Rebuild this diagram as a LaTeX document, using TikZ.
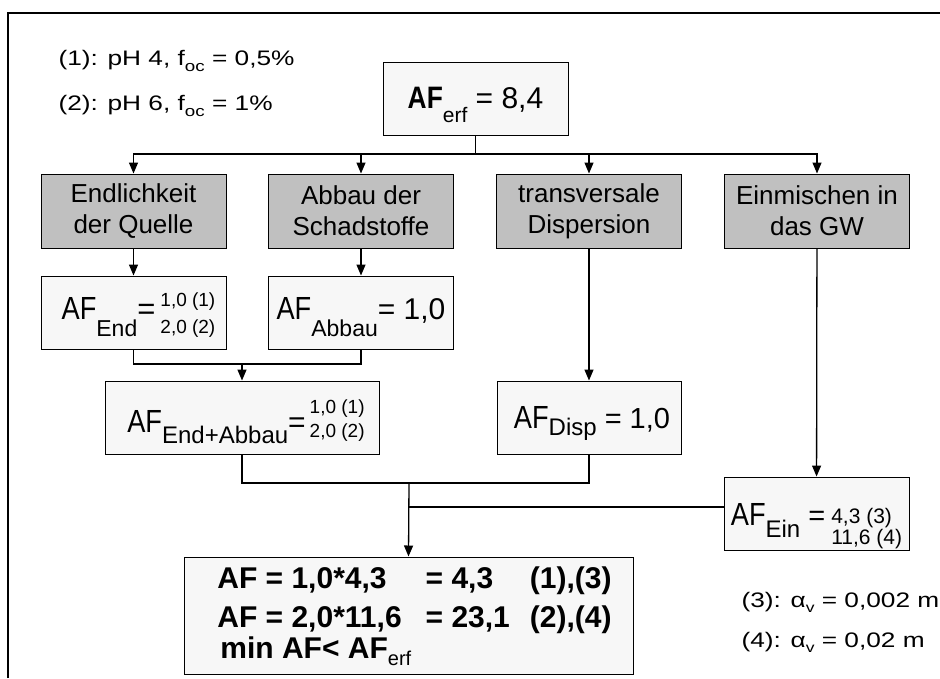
\documentclass[tikz,border=0pt]{standalone}
\usepackage{fontspec}
\setmainfont{Liberation Sans}
\newfontfamily\widefont[FakeStretch=1.25]{Liberation Sans}
\newfontfamily\narrowfont[FakeStretch=0.85]{Liberation Sans}
\usetikzlibrary{arrows.meta}
\definecolor{catgray}{RGB}{192,192,192}
\definecolor{boxfill}{RGB}{247,247,247}
\newcommand{\fsz}[2]{\fontsize{#1}{#2}\selectfont}
\newcommand{\afsym}{{\narrowfont\fsz{32}{32}AF}}
\begin{document}
\begin{tikzpicture}[x=1pt, y=-1pt,
  leaf/.style={draw, line width=1pt, fill=boxfill, minimum width=185pt, minimum height=73pt, inner sep=2pt},
  cat/.style={draw, line width=1pt, fill=catgray, minimum width=185pt, minimum height=74pt, align=center, font=\fsz{26}{31}},
  note/.style={anchor=base west, font=\widefont\fsz{21}{21}},
  wire/.style={line width=1.3pt},
  arrow/.style={-{Triangle[length=11pt,width=9pt]}, line width=1.3pt}
]
\useasboundingbox (0,0) rectangle (940,678);
\draw[line width=2pt] (8,678) -- (8,13) -- (940,13);

% legend
\node[note] (note1) at (55,65.5) {(1): pH 4, f\raisebox{-6pt}{\fsz{15}{15}oc} = 0,5\%};
\node[note] (note2) at (55,110.5) {(2): pH 6, f\raisebox{-6pt}{\fsz{15}{15}oc} = 1\%};
\node[note] (note3) at (738,607) {(3): α\raisebox{-5pt}{\fsz{14}{14}v} = 0,002 m};
\node[note] (note4) at (738,647) {(4): α\raisebox{-5pt}{\fsz{14}{14}v} = 0,02 m};

% boxes
\node[leaf, text height=24pt, text depth=5pt] (erf) at (475.5,98.5) {{\narrowfont\fsz{31}{31}\bfseries AF}\raisebox{-14pt}{\fsz{21}{21}erf}{\fsz{30}{30} = 8,4}};
\node[cat] (src) at (133.5,211) {Endlichkeit\\der Quelle};
\node[cat] (deg) at (361,211) {Abbau der\\Schadstoffe};
\node[cat] (disp) at (589,211) {transversale\\Dispersion};
\node[cat] (mix) at (817,211) {Einmischen in\\das GW};
\node[leaf, text height=23pt, text depth=10pt] (afend) at (133.5,312.5) {\hspace{10pt}\afsym\raisebox{-17pt}{\fsz{23}{23}End}{\fsz{31}{31}=}\hspace{5pt}{\fsz{19}{27}\begin{tabular}{@{}l@{}}1,0 (1)\\2,0 (2)\end{tabular}}};
\node[leaf, text height=23pt, text depth=10pt] (afabbau) at (361,312.5) {\afsym\raisebox{-17pt}{\fsz{23}{23}Abbau}{\fsz{30}{30}= 1,0}};
\node[leaf, minimum width=274pt, text height=29pt, text depth=0pt] (afsum) at (242,417.5) {\hspace{8pt}\afsym\raisebox{-11pt}{\fsz{24}{24}End+Abbau}{\fsz{30}{30}=}\hspace{4pt}\raisebox{7pt}{\fsz{19}{24}\begin{tabular}{@{}l@{}}1,0 (1)\\2,0 (2)\end{tabular}}};
\node[leaf, minimum width=184pt, text height=25pt, text depth=4pt] (afdisp) at (589,417.5) {\hspace{6pt}\afsym\raisebox{-7pt}{\fsz{24}{24}Disp}{\fsz{29}{29} = 1,0}};
\node[leaf, text height=25pt, text depth=2pt] (afein) at (816.5,513.5) {\afsym\raisebox{-12pt}{\fsz{24}{24}Ein}{\fsz{29}{29} =}\hspace{6pt}\raisebox{-9pt}{\fsz{21}{19}\begin{tabular}{@{}l@{}}4,3 (3)\\11,6 (4)\end{tabular}}};
\node[leaf, minimum width=449pt, minimum height=117pt] (result) at (408.5,615.5) {\fsz{30}{39}\bfseries
  \begin{tabular}{@{\hspace{12pt}}l@{\hspace{24pt}}l@{\hspace{20pt}}l@{}}
  AF = 1,0*4,3 & = 4,3 & (1),(3)\\
  AF = 2,0*11,6 & = 23,1 & (2),(4)\\[-8pt]
  \multicolumn{3}{@{\hspace{12pt}}l}{\hspace{3pt}min AF< AF\raisebox{-7pt}{\mdseries\fsz{20}{20}erf}}
  \end{tabular}};

% connectors
\coordinate (bus) at (475.5,154);
\draw[wire] (erf.south) -- (bus);
\draw[arrow] (bus) -| (src.north);
\draw[arrow] (bus) -| (deg.north);
\draw[arrow] (bus) -| (disp.north);
\draw[arrow] (bus) -| (mix.north);
\draw[arrow] (src) -- (afend);
\draw[arrow] (deg) -- (afabbau);
\coordinate (join1) at (242,364);
\draw[wire] (afend.south) |- (join1) -| (afabbau.south);
\draw[arrow] (join1) -- (afsum.north);
\draw[arrow] (disp) -- (afdisp);
\draw[arrow] (mix) -- (afein);
\coordinate (join2) at (409,483);
\draw[wire] (afsum.south) |- (join2) -| (afdisp.south);
\coordinate (join3) at (409,507);
\draw[wire] (join3) -- (join3 -| afein.west);
\draw[arrow] (join2) -- (result.north);
\end{tikzpicture}
\end{document}
